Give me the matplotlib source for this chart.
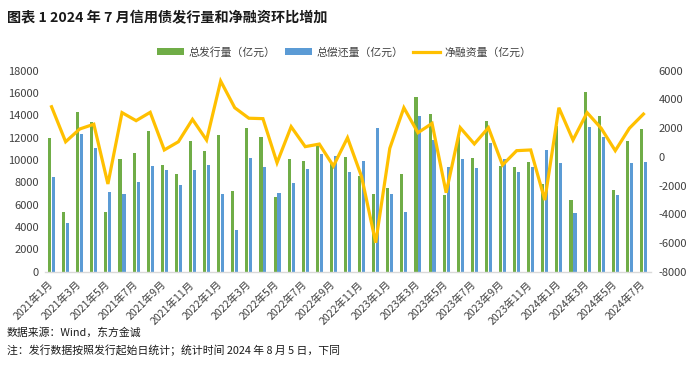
import matplotlib
matplotlib.use("Agg")
import matplotlib.pyplot as plt
import numpy as np

plt.rcParams['font.family'] = ['Noto Sans CJK SC', 'DejaVu Sans']
plt.rcParams['axes.unicode_minus'] = False

months = [f"{y}年{m}月" for y in (2021, 2022, 2023, 2024) for m in range(1, 13)][:43]

issuance = [11950, 5370, 14330, 13430, 5320, 10070, 10600, 12600, 9560, 8780, 11700, 10810,
            12270, 7230, 12900, 12090, 6720, 10070, 9910, 11260, 9700, 10300, 8570, 6930,
            7520, 8780, 15670, 14100, 6900, 12100, 10210, 13520, 9470, 9350, 9850, 7850,
            13070, 6420, 16070, 13970, 7320, 11700, 12780]
repayment = [8450, 4330, 12330, 11100, 7160, 6960, 8030, 9470, 9110, 7740, 9100, 9530,
             6990, 3760, 10180, 9400, 7080, 7920, 9200, 10540, 10330, 8960, 9890, 12900,
             6960, 5370, 13940, 11790, 9400, 10070, 9260, 11550, 10070, 8960, 9400, 10900,
             9710, 5230, 12990, 12090, 6870, 9710, 9800]
net_financing = [3490, 1050, 1940, 2270, -1890, 3080, 2520, 3100, 480, 1050, 2610, 1170,
                 5280, 3420, 2690, 2660, -410, 2100, 710, 890, -640, 1330, -1380, -5980,
                 590, 3420, 1680, 2330, -2500, 2030, 900, 2030, -570, 430, 480, -3010,
                 3420, 1170, 3080, 1990, 430, 1990, 2980]

title = "图表 1 2024 年 7 月信用债发行量和净融资环比增加"
series_names = ["总发行量（亿元）", "总偿还量（亿元）", "净融资量（亿元）"]
source_note = "数据来源：Wind，东方金诚"
note = "注：发行数据按照发行起始日统计；统计时间 2024 年 8 月 5 日，下同"

green = "#70AD47"
blue = "#5B9BD5"
yellow = "#FFC000"
txt = "#404040"

fig = plt.figure(figsize=(7.0, 3.76), dpi=100)
ax = fig.add_axes([44.5/700, 1-271.7/376, (650.5-44.5)/700, (271.7-70.7)/376])
ax2 = ax.twinx()

x = np.arange(len(months))
w = 0.22
b1 = ax.bar(x - 0.14, issuance, width=w, color=green, zorder=2)
b2 = ax.bar(x + 0.14, repayment, width=w, color=blue, zorder=2)
l1, = ax2.plot(x, net_financing, color=yellow, lw=2.3, solid_joinstyle='miter', zorder=3)

ax.set_xlim(-0.5, len(months) - 0.5)
ax.set_ylim(0, 18000)
ax.set_yticks(np.arange(0, 18001, 2000))
ax2.set_ylim(-8000, 6000)
ax2.set_yticks(np.arange(-8000, 6001, 2000))

ax.set_xticks(x[::2])
ax.set_xticklabels(months[::2], rotation=45, ha='right', va='center', rotation_mode='anchor')
ax.tick_params(axis='x', length=0, pad=8, labelsize=7.6, labelcolor=txt)
ax.tick_params(axis='y', length=0, pad=4, labelsize=8, labelcolor=txt)
ax2.tick_params(axis='y', length=0, pad=6, labelsize=8, labelcolor=txt)

for a in (ax, ax2):
    for s in ('top', 'left', 'right', 'bottom'):
        a.spines[s].set_visible(False)
ax.spines['bottom'].set_visible(True)
ax.spines['bottom'].set_color('#D9D9D9')
ax.spines['bottom'].set_linewidth(1.0)
ax.set_zorder(ax2.get_zorder() - 1)
ax.patch.set_visible(False)

fig.text(7/700, 1-18.5/376, title, fontsize=10.2, fontweight='bold', color='#1a1a1a',
         ha='left', va='center')

fig.legend([b1, b2, l1], series_names, loc='center', bbox_to_anchor=(0.492, 1-52/376),
           ncol=3, frameon=False, fontsize=7.8, handlelength=2.5, handleheight=0.6,
           handletextpad=0.4, columnspacing=0.9, labelcolor=txt)

fig.text(7/700, 1-333/376, source_note, fontsize=7.8, color='#1a1a1a', ha='left', va='center')
fig.text(7/700, 1-350/376, note, fontsize=7.8, color='#1a1a1a', ha='left', va='center')

fig.savefig("out.png", dpi=100)
